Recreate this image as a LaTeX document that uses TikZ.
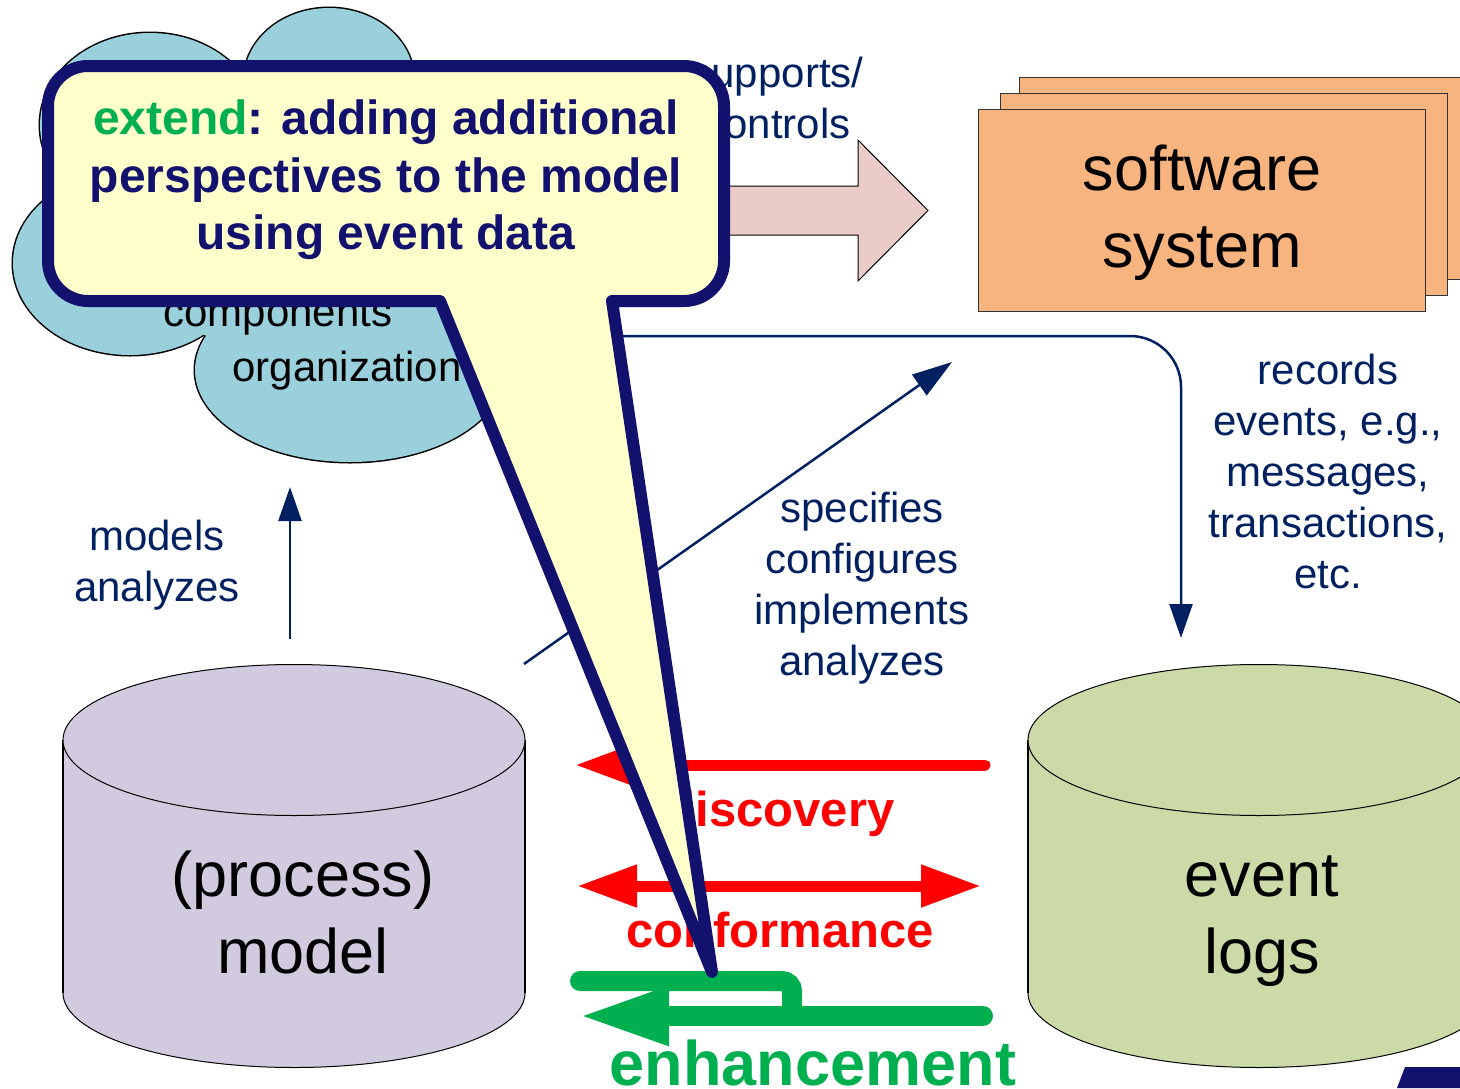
\documentclass[tikz,border=0pt]{standalone}
\usepackage{fontspec}
\setmainfont{Liberation Sans}
\usetikzlibrary{arrows.meta}
\definecolor{navy}{HTML}{002060}
\definecolor{calnavy}{HTML}{13116E}
\definecolor{calfill}{HTML}{FFFFCC}
\definecolor{cloudblue}{HTML}{9ACFDC}
\definecolor{pinkarr}{HTML}{EBCBC8}
\definecolor{orng}{HTML}{F8B47E}
\definecolor{lav}{HTML}{D2CBE0}
\definecolor{logsg}{HTML}{CCDAA8}
\definecolor{pmred}{HTML}{FF0000}
\definecolor{pmgreen}{HTML}{00B050}

\tikzset{
  lbl/.style={text=navy, font=\fontsize{42}{51}\selectfont, align=center, inner sep=0pt},
  cloudtxt/.style={text=black, font=\fontsize{42}{51}\selectfont, inner sep=0pt, anchor=base},
  big/.style={text=black, font=\fontsize{63}{77}\selectfont, align=center, inner sep=0pt},
  conn/.style={draw=navy, line width=2.5pt, -{Triangle[length=34pt,width=23pt]}},
  redarr/.style={draw=pmred, line width=11pt, line cap=round},
  grnarr/.style={draw=pmgreen, line width=20pt, line cap=round},
  task/.style={font=\bfseries\fontsize{49}{58}\selectfont, inner sep=0pt, anchor=base},
}

\begin{document}
\begin{tikzpicture}[x=1pt,y=-1pt]

    \useasboundingbox (0,0) rectangle (1460,1088);

    % cloud
    \foreach \cx/\cy/\rx/\ry in {150/125/110/92, 329/80/85/72, 130/263/117/92, 350/370/155/92}
        \filldraw[fill=cloudblue, draw=black, line width=3pt] (\cx,\cy) ellipse [x radius=\rx, y radius=\ry];
    \foreach \cx/\cy/\rx/\ry in {150/125/110/92, 329/80/85/72, 130/263/117/92, 350/370/155/92, 290/210/190/140}
        \fill[cloudblue] (\cx,\cy) ellipse [x radius=\rx, y radius=\ry];
    \node[cloudtxt] (comp) at (278,326) {components};
    \node[cloudtxt] (org) at (347,381) {organization};

    % supports / controls
    \filldraw[fill=pinkarr, draw=black, line width=1pt] (700,186) -- (858,186) -- (858,140) -- (928,210.5) -- (858,281) -- (858,235) -- (700,235) -- cycle;
    \node[lbl] (sc) at (777,98) {supports/\\controls};

    % software system
    \foreach \x/\y in {1019/77, 1000/93, 978/109}
        \filldraw[fill=orng, draw=black!80, line width=1pt] (\x,\y) rectangle ++(447,202);
    \node[big] (sw) at (1202,213) {software\\system};

    % connectors
    \coordinate (r1) at (590,336);
    \coordinate (r2) at (1181,638);
    \draw[conn, rounded corners=51pt] (r1) -| (r2);
    \node[lbl] (rec) at (1328,471) {records\\events, e.g.,\\messages,\\transactions,\\etc.};

    \coordinate (s1) at (524,664);
    \coordinate (s2) at (952,362);
    \draw[conn, -{Triangle[length=40pt,width=25pt]}] (s1) -- (s2);
    \node[lbl] (spec) at (862,588) {specifies\\configures\\implements\\analyzes};

    \coordinate (m1) at (290,639);
    \coordinate (m2) at (290,487);
    \draw[conn] (m1) -- (m2);
    \node[lbl] (mod) at (157,565.5) {models\\analyzes};

    % cylinders
    \foreach \cx/\col in {294/lav, 1259/logsg} {
        \filldraw[fill=\col, draw=black, line width=1pt] (\cx,993) ellipse [x radius=231, y radius=74.5];
        \fill[\col] (\cx-231,740) rectangle (\cx+231,993);
        \draw[line width=2pt] (\cx-231,740) -- (\cx-231,993) (\cx+231,740) -- (\cx+231,993);
        \filldraw[fill=\col, draw=black, line width=1pt] (\cx,740) ellipse [x radius=231, y radius=75.5];
    }
    \node[big] (pm) at (303,912) {(process)\\model};
    \node[big] (el) at (1262,921) {event\\logs};

    % discovery, conformance, enhancement
    \coordinate (d1) at (985,765);
    \coordinate (d2) at (575,765);
    \draw[redarr, -{Triangle[length=60pt,width=40pt]}] (d1) -- (d2);
    \node[task, text=pmred] (disc) at (780,826) {discovery};

    \coordinate (c1) at (577,886);
    \coordinate (c2) at (981,886);
    \draw[redarr, {Triangle[length=60pt,width=40pt]}-{Triangle[length=60pt,width=40pt]}] (c1) -- (c2);
    \node[task, text=pmred] (conf) at (780,947) {conformance};

    \coordinate (e1) at (580,981);
    \coordinate (e2) at (792,981);
    \coordinate (e3) at (792,1016);
    \coordinate (e4) at (983,1016);
    \coordinate (e5) at (578,1016);
    \draw[grnarr, rounded corners=10pt] (e1) -- (e2) -- (e3);
    \draw[grnarr, -{Triangle[length=91pt,width=54pt]}] (e4) -- (e5);
    \node[task, text=pmgreen, font=\bfseries\fontsize{63}{75}\selectfont] (enh) at (813,1085) {enhancement};

    % callout
    \filldraw[fill=calfill, draw=calnavy, line width=12pt, line join=round]
        (440,301) [rounded corners=40pt] -- (48,301) -- (48,66) -- (724,66) -- (724,301)
        [sharp corners] -- (612,301) -- (712,972) -- cycle;
    \node[text=calnavy, font=\bfseries\fontsize{48}{57.5}\selectfont, align=center, inner sep=0pt] (ext) at (386,180)
        {\textcolor{pmgreen}{extend}: adding additional\\perspectives to the model\\using event data};

    \fill[calnavy] (1405,1067) -- (1460,1067) -- (1460,1088) -- (1397,1088) -- cycle;

\end{tikzpicture}
\end{document}
